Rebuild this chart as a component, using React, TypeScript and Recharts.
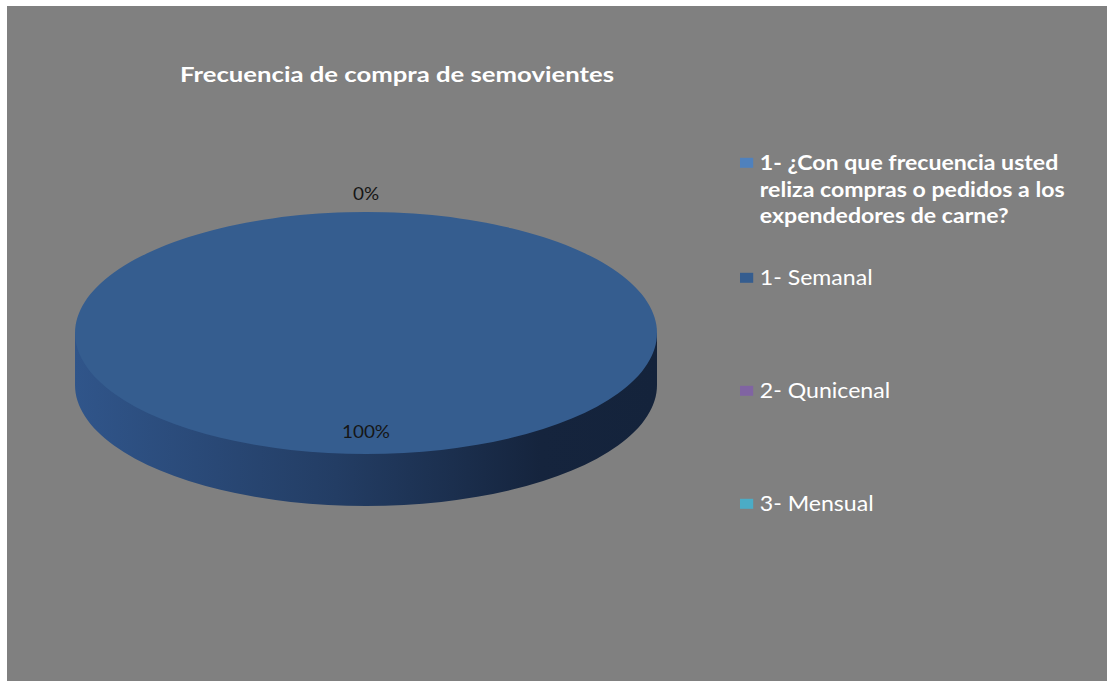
import React from 'react';
import { PieChart, Pie, Cell, Legend } from 'recharts';

const title = 'Frecuencia de compra de semovientes';
const categories = [
  '1- ¿Con que frecuencia usted reliza compras o pedidos a los expendedores de carne?',
  '1- Semanal',
  '2- Qunicenal',
  '3- Mensual',
];
const values: (number | null)[] = [0, 100, null, null];
const colors = ['#4F81BD', '#355D8F', '#8064A2', '#4BACC6'];

const W = 1107;
const H = 681;
const CX = 366;
const CY = 333;
const RX = 291;
const RY = 121;
const DEPTH = 52;
const SY = RY / RX;
const PAD = 300;
const CCY = CY + PAD; // pie centre inside the (padded) scaled charts
const FONT = "Lato, 'Open Sans', sans-serif";
const LEGEND_SX = 1.1;

const data = categories.map((name, i) => ({ name, value: values[i] ?? 0, raw: values[i] }));
const total = values.reduce<number>((s, v) => s + (v ?? 0), 0);

const renderLabel = (p: any) => {
  const raw = data[p.index]?.raw;
  if (raw === null || raw === undefined) return null;
  const rad = (Math.PI / 180) * p.midAngle;
  const r = raw === 0 ? p.outerRadius + 45 : p.outerRadius * 0.81;
  const x = p.cx + r * Math.cos(rad);
  const y = p.cy - r * Math.sin(rad);
  const pct = Math.round((raw / total) * 100) + '%';
  return (
    <text
      key={`lbl-${p.index}`}
      transform={`translate(${x},${y}) scale(1.05,${1 / SY})`}
      x={0}
      y={0}
      textAnchor="middle"
      dominantBaseline="central"
      fill="#161616"
      fontFamily={FONT}
      fontSize={18}
    >
      {pct}
    </text>
  );
};

const LegendContent = (props: any) => {
  const payload = (props.payload || [])
    .filter((e: any) => e.type !== 'none')
    .slice()
    .sort((a: any, b: any) => categories.indexOf(a.value) - categories.indexOf(b.value));
  return (
    <div style={{ fontFamily: FONT, color: '#FFFFFF', transform: `scale(${LEGEND_SX}, ${1 / SY})`, transformOrigin: '0 0' }}>
      {payload.map((e: any, i: number) => (
        <div key={i} style={{ display: 'flex', alignItems: 'flex-start', height: i === 0 ? 115 : 113 }}>
          <span style={{ display: 'inline-block', width: 12, height: 10, background: e.color, marginTop: 9, marginRight: 6, flex: 'none' }} />
          <span style={{ width: 300, lineHeight: '26.5px', fontSize: 21, fontWeight: i === 0 ? 700 : 400, whiteSpace: 'normal' }}>{e.value}</span>
        </div>
      ))}
    </div>
  );
};

const scaledBox = (dy: number): React.CSSProperties => ({
  position: 'absolute',
  left: 0,
  top: -PAD,
  width: W,
  height: H + 2 * PAD,
  transformOrigin: `0px ${CCY}px`,
  transform: `translateY(${dy}px) scaleY(${SY})`,
});

export default function App() {
  return (
    <div style={{ position: 'absolute', left: 0, top: 0, width: W, height: H, background: '#FFFFFF', overflow: 'hidden' }}>
      <div style={{ position: 'absolute', left: 7, top: 6, width: W - 7, height: H - 6, background: '#808080' }} />

      {/* side (depth) of the 3D pie */}
      <div style={scaledBox(DEPTH)}>
        <PieChart width={W} height={H + 2 * PAD} margin={{ top: 0, right: 0, bottom: 0, left: 0 }}>
          <defs>
            <linearGradient id="sideGrad" gradientUnits="userSpaceOnUse" x1={CX - RX} y1={0} x2={CX + RX} y2={0}>
              <stop offset="0" stopColor="#30558A" />
              <stop offset="0.45" stopColor="#233D64" />
              <stop offset="0.8" stopColor="#15243D" />
              <stop offset="1" stopColor="#14233B" />
            </linearGradient>
          </defs>
          <rect x={CX - RX} y={CCY - DEPTH / SY} width={RX * 2} height={DEPTH / SY} fill="url(#sideGrad)" />
          <Pie
            data={data}
            dataKey="value"
            nameKey="name"
            cx={CX}
            cy={CCY}
            outerRadius={RX}
            startAngle={90}
            endAngle={-270}
            stroke="none"
            legendType="none"
            isAnimationActive={false}
          >
            {data.map((d, i) => (
              <Cell key={i} fill="url(#sideGrad)" />
            ))}
          </Pie>
        </PieChart>
      </div>

      {/* top face of the pie, labels and legend */}
      <div style={scaledBox(0)}>
        <PieChart width={W} height={H + 2 * PAD} margin={{ top: 0, right: 0, bottom: 0, left: 0 }}>
          <Pie
            data={data}
            dataKey="value"
            nameKey="name"
            cx={CX}
            cy={CCY}
            outerRadius={RX}
            startAngle={90}
            endAngle={-270}
            stroke="none"
            label={renderLabel}
            labelLine={false}
            isAnimationActive={false}
          >
            {data.map((d, i) => (
              <Cell key={i} fill={colors[i]} />
            ))}
          </Pie>
          <Legend
            layout="vertical"
            align="right"
            verticalAlign="middle"
            content={<LegendContent />}
            wrapperStyle={{ position: 'absolute', left: 740, top: CCY + (149 - CY) / SY, width: 360 }}
          />
        </PieChart>
      </div>

      <svg width={W} height={120} style={{ position: 'absolute', left: 0, top: 0 }}>
        <text x={180} y={82} textLength={434} lengthAdjust="spacingAndGlyphs" fill="#FFFFFF" fontFamily={FONT} fontWeight={700} fontSize={21}>
          {title}
        </text>
      </svg>
    </div>
  );
}
